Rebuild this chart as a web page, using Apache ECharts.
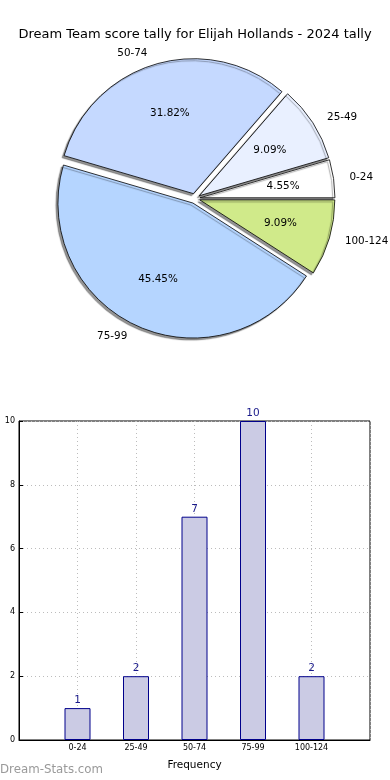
<!DOCTYPE html>
<html>
<head>
<meta charset="utf-8">
<script src="https://cdn.jsdelivr.net/npm/echarts@6/dist/echarts.min.js"></script>
<style>
html,body{margin:0;padding:0;background:#fff;}
#chart{width:390px;height:780px;}
</style>
</head>
<body>
<div id="chart"></div>
<script>
const titleText = 'Dream Team score tally for Elijah Hollands - 2024 tally';
const categories = ['0-24', '25-49', '50-74', '75-99', '100-124'];
const tally = [1, 2, 7, 10, 2];
const yTicks = [0, 2, 4, 6, 8, 10];
const sliceColors = ['#ffffff', '#e9f0ff', '#c5d9ff', '#b5d5ff', '#d0ea8a'];

const FONT = 'DejaVu Sans';
const R = 135;

const pieData = categories.map((c, i) => ({
  name: c, value: tally[i], selected: true,
  itemStyle: { color: sliceColors[i] }
}));
const pieLabelData = categories.map((c, i) => ({
  name: c, value: tally[i], selected: true
}));

const xCats = [''].concat(categories, ['']);
const barData = ['-'].concat(tally, ['-']);

const chart = echarts.init(document.getElementById('chart'), null, { renderer: 'canvas' });
chart.setOption({
  animation: false,
  backgroundColor: '#ffffff',
  textStyle: { fontFamily: FONT },
  title: {
    text: titleText, left: 'center', top: 23,
    textStyle: { fontFamily: FONT, fontSize: 13, fontWeight: 'normal', color: '#000' }
  },
  graphic: [{
    type: 'text', left: 0, top: 764,
    style: { text: 'Dream-Stats.com', fontFamily: FONT, fontSize: 11.8, fill: '#9a9a9a' }
  }],
  grid: {
    left: 19, right: 20, top: 421, bottom: 40,
    show: true, borderColor: '#000', borderWidth: 1
  },
  xAxis: {
    type: 'category', data: xCats, boundaryGap: false,
    axisLine: { lineStyle: { color: '#000', width: 1 } },
    axisTick: { show: false },
    axisLabel: { fontFamily: FONT, fontSize: 8, color: '#000', margin: 4, interval: 0 },
    splitLine: { show: true, lineStyle: { type: [1, 3], color: '#bcbcbc', width: 1 } },
    name: 'Frequency', nameLocation: 'middle', nameGap: 20,
    nameTextStyle: { fontFamily: FONT, fontSize: 10.5, color: '#000' }
  },
  yAxis: {
    type: 'value', min: yTicks[0], max: yTicks[yTicks.length - 1], interval: 2,
    axisLine: { show: true, lineStyle: { color: '#000', width: 1 } },
    axisTick: { show: true, inside: true, length: 4, lineStyle: { color: '#000' } },
    axisLabel: { fontFamily: FONT, fontSize: 8, color: '#000', margin: 4 },
    splitLine: { show: true, lineStyle: { type: [1, 3], color: '#bcbcbc', width: 1 } }
  },
  series: [
    {
      type: 'pie',
      center: [195, 198.5],
      radius: [0, R],
      startAngle: 0,
      clockwise: false,
      selectedMode: 'multiple',
      selectedOffset: 5,
      avoidLabelOverlap: false,
      silent: true,
      data: pieData,
      itemStyle: {
        borderColor: '#000', borderWidth: 0.8,
        shadowBlur: 1, shadowColor: 'rgba(0,0,0,0.42)', shadowOffsetX: -2, shadowOffsetY: 2
      },
      label: {
        show: true, position: 'outside', formatter: '{b}',
        fontFamily: FONT, fontSize: 10.4, color: '#000'
      },
      labelLine: { show: false, length: 11, length2: 0 },
      emphasis: { disabled: true }
    },
    {
      type: 'pie',
      center: [195, 198.5],
      radius: [0, R * 1.2],
      startAngle: 0,
      clockwise: false,
      selectedMode: 'multiple',
      selectedOffset: 5,
      avoidLabelOverlap: false,
      silent: true,
      data: pieLabelData,
      itemStyle: { color: 'rgba(0,0,0,0)', borderWidth: 0 },
      label: {
        show: true, position: 'inside', formatter: '{d}%',
        fontFamily: FONT, fontSize: 10.4, color: '#000'
      },
      labelLine: { show: false },
      emphasis: { disabled: true }
    },
    {
      type: 'bar',
      data: barData,
      barWidth: 26,
      itemStyle: { color: '#cbcbe4', borderColor: '#00008b', borderWidth: 1 },
      label: {
        show: true, position: 'top', distance: 2,
        fontFamily: FONT, fontSize: 10.5, color: '#1a1a8a'
      },
      emphasis: { disabled: true },
      z: 3
    }
  ]
});
</script>
</body>
</html>
